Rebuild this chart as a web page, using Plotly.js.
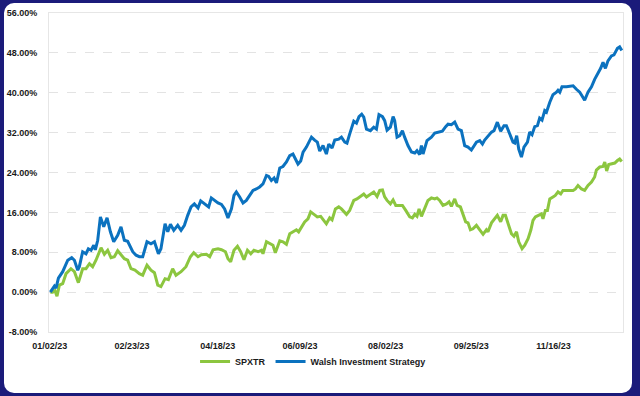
<!DOCTYPE html>
<html>
<head>
<meta charset="utf-8">
<script src="https://cdn.plot.ly/plotly-3.0.1.min.js"></script>
<style>
  html, body { margin: 0; padding: 0; width: 640px; height: 396px; background: #1b1b7a; overflow: hidden; }
  #box { position: absolute; left: 4px; top: 3px; width: 628px; height: 390px; background: #ffffff; border-radius: 10px; }
  #chart { position: absolute; left: 0; top: 0; width: 640px; height: 396px; }
</style>
</head>
<body>
<div id="box"></div>
<div id="chart"></div>
<script>
// Days since 01/02/23, and cumulative return (%)
const spxDays = [0.4,1.9,3.3,4.6,6.1,8.2,10.3,13.4,15.6,18.1,20.8,22.9,25.1,27.1,29.2,32.4,34.5,36.6,38.7,40.8,42.9,45.0,47.1,49.2,51.3,53.8,56.6,58.7,61.4,63.9,66.1,68.2,70.2,72.8,74.9,77.6,79.7,82.9,86.0,88.8,90.9,93.6,95.7,98.9,101.0,103.1,106.2,108.4,110.9,112.5,114.2,116.3,118.5,120.5,122.6,124.8,126.9,128.9,131.5,133.6,134.6,136.8,138.8,140.9,142.4,145.2,147.2,149.4,151.5,153.5,155.7,157.1,158.8,160.9,163.0,164.7,166.8,168.9,171.0,173.1,174.6,176.7,178.2,180.3,182.4,184.1,187.3,189.3,191.9,193.9,196.1,198.2,199.9,202.4,204.5,206.6,208.3,210.0,211.4,212.9,215.0,216.7,218.4,220.4,222.6,224.7,227.2,228.9,230.4,231.8,233.1,234.6,236.7,238.7,240.9,243.0,244.4,246.1,248.2,250.4,252.0,253.5,255.6,257.1,259.2,260.8,262.5,264.0,265.5,267.1,269.3,271.4,273.5,275.6,276.6,278.8,280.8,282.5,284.6,286.1,287.6,289.3,291.4,293.0,294.6,296.0,298.1,299.8,301.9,303.6,305.0,306.5,308.6,310.3,311.3,312.8,314.1,315.6,317.6,319.1,320.8,322.5,323.9,326.1,328.2,330.3,331.8,333.4,335.6,337.6,339.7,341.9,343.9,345.0,347.1,349.2,350.3,351.5,352.8,354.9,356.6,358.3,359.7,361.0];
const spxReturns = [0.0,0.0,0.3,-0.8,1.4,1.7,3.7,4.7,4.1,1.9,4.7,4.7,5.7,5.1,6.4,8.9,7.6,8.4,6.9,7.1,8.3,7.4,6.7,6.4,4.7,4.4,3.7,3.4,5.4,4.4,3.9,1.4,1.1,2.7,2.5,4.7,3.4,4.1,5.1,7.1,7.9,7.1,7.5,7.6,7.1,8.5,8.7,8.5,8.1,6.7,6.1,8.4,9.2,8.1,6.5,8.4,7.7,8.4,8.1,8.4,7.7,10.1,9.7,9.4,7.9,10.3,10.1,9.6,11.7,12.1,12.5,12.1,13.1,14.1,14.7,16.1,15.6,15.1,15.2,14.3,13.7,14.9,14.5,16.7,17.1,16.7,15.6,16.4,18.4,18.7,19.2,19.7,19.1,19.6,20.1,19.2,20.4,20.5,19.1,18.4,17.7,18.5,17.4,17.4,17.4,16.4,15.1,14.9,15.6,15.2,16.7,15.2,16.7,18.4,18.9,18.7,18.9,18.4,17.4,17.7,18.1,17.2,18.7,17.4,17.1,15.6,14.1,13.9,12.5,12.7,13.4,12.5,11.6,12.5,12.1,13.9,14.7,15.4,14.1,15.4,15.4,13.7,11.7,11.2,12.1,10.1,8.7,9.4,10.7,12.4,14.4,15.1,15.4,15.7,14.7,16.4,16.4,18.7,19.1,19.4,20.1,19.7,20.4,20.4,20.3,20.4,20.7,21.4,20.7,20.4,21.4,22.1,23.1,24.5,25.1,25.2,26.1,24.3,25.6,25.7,25.9,26.4,26.7,26.2];

const walshDays = [0.4,3.0,4.0,5.5,8.2,11.4,13.9,15.6,17.7,18.7,20.8,22.9,24.4,26.1,27.8,28.8,30.3,32.0,34.1,36.2,38.3,40.4,42.9,45.0,47.1,49.2,52.4,54.5,56.6,58.7,61.4,63.9,66.1,68.6,70.2,72.8,74.5,76.2,78.3,80.8,82.9,85.0,87.1,89.2,91.3,93.6,95.3,97.8,100.3,102.0,104.1,106.2,108.4,110.4,112.5,114.7,116.3,117.8,119.9,122.0,124.1,126.2,128.3,130.4,132.5,134.6,136.8,138.2,139.9,141.6,143.1,145.2,147.2,149.4,151.5,153.5,155.3,156.7,158.4,159.9,162.0,163.5,165.2,167.2,168.9,170.4,172.5,174.6,176.1,178.2,179.9,182.4,184.1,186.2,187.6,189.3,191.9,193.6,195.2,196.9,198.2,199.9,202.4,204.5,206.2,207.8,210.0,211.4,212.9,215.0,216.7,217.7,219.2,220.9,222.6,224.0,226.1,228.3,230.4,231.8,233.5,234.6,235.6,238.1,240.9,243.0,245.1,247.8,249.9,251.4,253.5,255.6,257.7,259.8,261.9,264.0,266.1,267.6,269.3,271.4,273.1,274.5,276.6,278.8,280.4,282.5,284.6,286.7,288.2,290.3,292.4,293.5,294.7,296.0,297.7,299.3,301.5,302.9,304.4,306.1,307.8,309.2,310.7,312.4,313.5,315.6,317.6,319.8,320.8,321.9,323.3,326.1,328.8,330.3,332.4,334.5,335.9,337.6,339.7,341.9,343.9,346.0,347.7,349.2,350.7,352.3,354.5,356.1,358.3,359.7,361.0];
const walshReturns = [0.0,1.2,0.8,2.8,4.1,6.4,6.9,6.4,4.4,5.1,8.1,7.7,8.7,8.4,9.4,8.5,10.4,15.1,13.1,14.9,12.1,10.1,11.4,13.1,10.4,10.2,8.1,7.4,7.1,7.1,10.1,9.7,10.1,7.7,8.7,13.7,12.1,13.6,12.4,13.4,12.4,13.4,15.4,17.1,17.7,16.9,18.3,17.7,17.1,18.9,18.4,17.9,17.6,16.7,14.9,16.7,19.4,20.1,19.1,17.9,18.4,19.4,20.4,20.7,21.1,21.7,23.4,23.2,22.4,22.9,21.9,24.9,25.2,26.1,27.4,27.7,26.4,25.7,26.3,28.1,29.1,30.1,31.1,30.5,30.1,28.3,29.4,27.7,29.7,28.9,30.5,30.7,31.1,30.1,29.9,31.7,34.3,33.9,35.2,35.7,35.1,32.7,32.4,33.1,32.7,35.6,35.2,34.4,32.5,33.1,35.2,34.4,31.1,31.4,32.4,31.1,29.4,28.1,27.9,28.4,27.6,29.4,27.7,30.4,31.1,31.9,32.1,32.3,33.2,33.7,33.6,34.1,32.7,32.4,29.4,29.1,28.5,29.2,30.1,30.4,29.7,30.5,31.2,32.1,32.4,34.1,32.3,33.4,33.4,31.7,30.1,29.9,31.4,28.7,27.1,29.1,30.1,32.1,31.6,33.2,33.4,34.9,34.5,36.4,36.1,38.1,39.6,40.1,40.5,40.1,41.2,41.2,41.4,41.4,40.7,40.1,39.4,38.5,40.1,41.2,42.7,43.9,44.9,46.1,44.9,46.4,47.4,47.6,48.9,49.2,48.5];

const tickDays = [0, 52, 106, 158, 212, 266, 318];
const tickLabels = ["01/02/23", "02/23/23", "04/18/23", "06/09/23", "08/02/23", "09/25/23", "11/16/23"];
const yTicks = [-8, 0, 8, 16, 24, 32, 40, 48, 56];

const fontFam = "'Liberation Sans', Arial, sans-serif";
const txt = { family: fontFam, size: 9, color: '#1a1a1a', weight: 700 };

const traces = [
  { x: spxDays, y: spxReturns, type: 'scatter', mode: 'lines', name: 'SPXTR',
    line: { color: '#8cc63f', width: 3 } },
  { x: walshDays, y: walshReturns, type: 'scatter', mode: 'lines', name: 'Walsh Investment Strategy',
    line: { color: '#0b72bf', width: 3 } }
];

const layout = {
  width: 640, height: 396,
  paper_bgcolor: 'rgba(0,0,0,0)',
  plot_bgcolor: '#ffffff',
  margin: { l: 49, r: 17, t: 13, b: 64 },
  font: txt,
  showlegend: true,
  legend: { orientation: 'h', x: 0.46, xanchor: 'center', y: -0.047, yanchor: 'top',
            font: txt, traceorder: 'normal' },
  xaxis: {
    type: 'linear', range: [-0.44, 361.8],
    tickmode: 'array', tickvals: tickDays, ticktext: tickLabels,
    showgrid: false, zeroline: false,
    showline: true, linecolor: '#e6e6e6', linewidth: 1, mirror: true,
    ticks: 'outside', ticklen: 5, tickcolor: 'rgba(0,0,0,0)',
    tickfont: txt
  },
  yaxis: {
    range: [-8, 56],
    tickmode: 'array', tickvals: yTicks,
    ticktext: yTicks.map(v => v.toFixed(2) + '%'),
    showgrid: true, gridcolor: '#e3e3e3', griddash: 'dash', gridwidth: 1,
    zeroline: false,
    showline: true, linecolor: '#e6e6e6', linewidth: 1, mirror: true,
    ticks: 'outside', ticklen: 9, tickcolor: 'rgba(0,0,0,0)',
    tickfont: txt
  }
};

Plotly.newPlot('chart', traces, layout, { displayModeBar: false, staticPlot: true });
</script>
</body>
</html>
